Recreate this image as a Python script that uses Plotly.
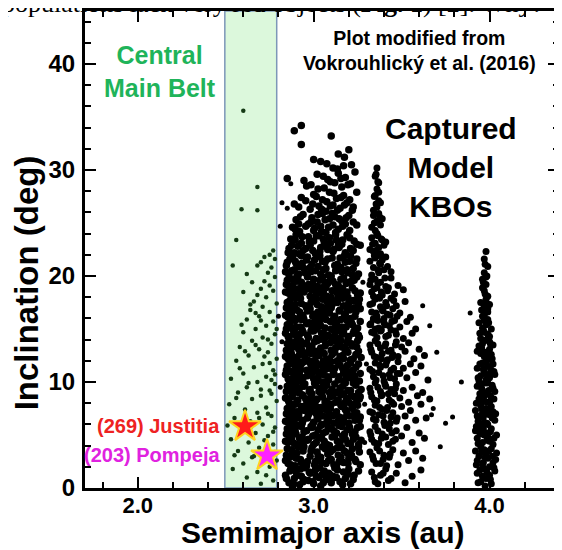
import plotly.graph_objects as go

# ---------------- data (a [au], i [deg]) ----------------
# central main belt objects (inside the green band)
belt_pts = [
    (2.60,35.6),(2.68,28.4),(2.59,26.3),(2.68,26.2),(2.56,23.4),(2.54,21.0),(2.68,21.0),
    (2.77,22.4),(2.78,21.6),(2.76,20.8),(2.74,20.3),(2.78,19.9),(2.72,19.5),(2.75,19.1),(2.70,18.8),
    (2.77,18.6),(2.68,18.2),(2.73,18.0),(2.66,17.6),(2.79,17.4),(2.71,17.1),(2.64,16.8),(2.75,16.6),
    (2.69,16.2),(2.62,15.9),(2.77,15.7),(2.73,15.3),(2.67,15.0),(2.60,14.7),(2.78,14.5),(2.71,14.2),
    (2.65,13.9),(2.76,13.6),(2.58,13.3),(2.69,13.1),(2.74,12.8),(2.63,12.5),(2.79,12.2),(2.56,12.0),
    (2.71,11.7),(2.66,11.4),(2.77,11.1),(2.60,10.8),(2.73,10.5),(2.53,10.3),(2.68,10.0),(2.78,9.8),
    (2.62,9.5),(2.75,9.2),(2.57,9.0),(2.70,8.7),(2.65,8.4),(2.79,8.2),(2.52,7.9),(2.73,7.6),(2.61,7.4),
    (2.68,7.1),(2.76,6.8),(2.55,6.6),(2.64,6.3),(2.71,6.0),(2.78,5.7),(2.59,5.5),(2.67,5.2),(2.74,4.9),
    (2.53,4.6),(2.63,4.3),(2.77,4.1),(2.69,3.8),(2.57,3.5),(2.72,3.2),(2.65,2.9),(2.79,2.6),(2.60,2.3),
    (2.75,2.0),(2.54,1.8),(2.68,1.5),(2.62,1.0),(2.77,0.7),(2.70,0.4),
    (2.62,20.2),(2.65,19.4),(2.60,18.5),(2.64,17.3),(2.70,21.3),(2.72,21.8),(2.75,22.0),(2.67,16.5),
    (2.59,15.4),(2.70,15.8),(2.74,14.0),(2.72,12.4),(2.76,10.2),(2.70,9.3),(2.74,7.0),(2.77,5.3),
    (2.72,4.5),(2.78,3.4),(2.66,3.0),(2.73,1.2),(2.56,8.5),(2.51,5.9),(2.58,11.3),(2.61,12.9),
    (2.67,13.5),(2.63,9.9),(2.69,6.6),(2.75,11.8),(2.79,15.0),(2.78,10.7),(2.76,8.9),(2.71,2.6),
    (2.64,5.7),(2.55,3.1),
]

# captured model KBOs, block between the 5:2 and 2:1 gaps
outer_pts = [
    (2.84,1.2),(2.86,0.5),(2.87,1.8),(2.89,0.9),(2.90,1.5),(2.92,0.3),(2.93,1.1),(2.95,1.9),(2.97,0.7),
    (2.98,1.4),(3.00,0.4),(3.01,1.7),(3.03,1.0),(3.04,0.2),(3.06,1.6),(3.07,0.8),(3.09,1.3),(3.10,0.5),
    (3.12,1.9),(3.13,1.0),(3.15,0.6),(3.17,1.5),(3.18,0.9),(3.20,1.8),(3.21,0.4),(3.23,1.2),(2.88,0.1),
    (2.94,0.6),(3.05,1.3),(3.11,1.1),
    (2.84,2.6),(2.85,3.7),(2.87,2.2),(2.88,3.3),(2.90,2.8),(2.91,3.9),(2.93,2.4),(2.94,3.5),(2.96,2.1),
    (2.98,3.0),(2.99,3.8),(3.01,2.5),(3.02,3.4),(3.04,2.9),(3.05,3.9),(3.07,2.3),(3.08,3.2),(3.10,2.7),
    (3.11,3.6),(3.13,2.1),(3.14,3.1),(3.16,3.8),(3.17,2.4),(3.19,3.3),(3.20,2.8),(3.22,3.7),(3.24,2.5),
    (3.26,3.4),
    (2.84,4.4),(2.85,5.6),(2.86,4.9),(2.88,5.9),(2.89,4.2),(2.90,5.1),(2.92,4.7),(2.93,5.8),(2.94,4.3),
    (2.96,5.4),(2.97,4.6),(2.99,5.7),(3.00,4.1),(3.01,5.0),(3.03,4.8),(3.04,5.9),(3.06,4.4),(3.07,5.3),
    (3.09,4.0),(3.10,5.6),(3.12,4.9),(3.13,5.2),(3.15,4.3),(3.16,5.8),(3.18,4.6),(3.19,5.5),(3.21,4.2),
    (3.22,5.1),(3.24,4.8),(3.25,5.7),(3.27,4.5),(2.87,5.2),
    (2.84,6.3),(2.85,7.5),(2.86,6.8),(2.87,7.9),(2.89,6.1),(2.90,7.2),(2.91,6.6),(2.93,7.7),(2.94,6.4),
    (2.95,7.3),(2.97,6.9),(2.98,7.8),(3.00,6.2),(3.01,7.1),(3.02,6.7),(3.04,7.6),(3.05,6.0),(3.07,7.4),
    (3.08,6.5),(3.10,7.9),(3.11,6.8),(3.13,7.2),(3.14,6.3),(3.16,7.7),(3.17,6.6),(3.19,7.0),(3.20,6.1),
    (3.22,7.5),(3.23,6.9),(3.25,7.8),(3.26,6.4),(2.88,7.0),(3.09,6.9),(3.18,7.4),
    (2.84,8.5),(2.85,9.6),(2.86,8.1),(2.87,9.2),(2.88,8.8),(2.90,9.9),(2.91,8.3),(2.92,9.4),(2.94,8.7),
    (2.95,9.8),(2.97,8.2),(2.98,9.3),(2.99,8.9),(3.01,9.7),(3.02,8.4),(3.03,9.1),(3.05,8.6),(3.06,9.5),
    (3.08,8.0),(3.09,9.0),(3.11,8.7),(3.12,9.8),(3.14,8.3),(3.15,9.4),(3.17,8.9),(3.18,9.9),(3.20,8.1),
    (3.21,9.2),(3.23,8.6),(3.24,9.7),(3.26,8.4),(3.27,9.3),(2.89,9.0),(3.00,8.1),(3.13,9.0),(3.19,8.5),
    (2.84,10.7),(2.85,11.5),(2.86,10.2),(2.88,11.9),(2.89,10.6),(2.90,11.3),(2.91,10.1),(2.93,11.7),
    (2.94,10.4),(2.96,11.1),(2.97,10.8),(2.98,11.8),(3.00,10.3),(3.01,11.4),(3.03,10.9),(3.04,11.6),
    (3.05,10.0),(3.07,11.2),(3.08,10.5),(3.10,11.9),(3.11,10.7),(3.12,11.3),(3.14,10.2),(3.15,11.6),
    (3.17,10.9),(3.18,11.0),(3.20,10.4),(3.21,11.8),(3.23,10.6),(3.24,11.4),(3.26,10.1),(2.87,11.0),
    (2.92,10.9),(3.02,10.1),(3.09,11.5),(3.19,11.5),
    (2.84,12.4),(2.85,13.6),(2.87,12.9),(2.88,13.3),(2.89,12.1),(2.90,13.8),(2.92,12.6),(2.93,13.1),
    (2.95,12.3),(2.96,13.7),(2.97,12.8),(2.99,13.4),(3.00,12.0),(3.02,13.9),(3.03,12.5),(3.04,13.2),
    (3.06,12.7),(3.07,13.6),(3.09,12.2),(3.10,13.0),(3.12,12.8),(3.13,13.8),(3.15,12.4),(3.16,13.3),
    (3.18,12.9),(3.19,13.7),(3.21,12.1),(3.22,13.4),(3.24,12.6),(3.25,13.9),(3.27,12.3),(2.86,13.0),
    (2.91,13.5),(3.01,12.9),(3.08,12.1),(3.17,12.2),
    (2.84,14.6),(2.85,15.4),(2.86,14.1),(2.87,15.8),(2.89,14.9),(2.90,15.2),(2.91,14.3),(2.93,15.9),
    (2.94,14.7),(2.96,15.5),(2.97,14.2),(2.99,15.1),(3.00,14.8),(3.01,15.7),(3.03,14.0),(3.04,15.3),
    (3.06,14.5),(3.07,15.9),(3.08,14.4),(3.10,15.0),(3.11,14.9),(3.13,15.6),(3.14,14.1),(3.16,15.2),
    (3.17,14.7),(3.19,15.8),(3.20,14.3),(3.22,15.4),(3.23,14.8),(3.25,15.1),(3.26,14.2),(2.88,15.0),
    (2.92,14.5),(3.02,15.0),(3.12,14.4),(3.21,15.9),
    (2.84,16.3),(2.85,17.5),(2.86,16.8),(2.88,17.2),(2.89,16.0),(2.90,17.9),(2.92,16.6),(2.93,17.4),
    (2.94,16.2),(2.96,17.0),(2.98,16.9),(2.99,17.7),(3.00,16.4),(3.02,17.3),(3.03,16.1),(3.05,17.8),
    (3.06,16.7),(3.08,17.1),(3.09,16.5),(3.11,17.6),(3.12,16.2),(3.14,17.9),(3.15,16.8),(3.17,17.2),
    (3.18,16.4),(3.20,17.5),(3.21,16.0),(3.23,17.0),(3.24,16.6),(3.26,17.8),(2.87,16.9),(3.01,16.0),
    (3.10,17.0),(3.19,16.9),
    (2.84,18.5),(2.85,19.6),(2.87,18.2),(2.88,19.1),(2.89,18.8),(2.91,19.8),(2.92,18.3),(2.93,19.4),
    (2.95,18.7),(2.97,19.2),(2.98,18.1),(3.00,19.7),(3.01,18.6),(3.02,19.0),(3.04,18.4),(3.05,19.9),
    (3.07,18.9),(3.08,19.3),(3.10,18.0),(3.11,19.5),(3.13,18.7),(3.14,19.1),(3.16,18.3),(3.17,19.8),
    (3.19,18.5),(3.20,19.4),(3.22,18.9),(3.23,19.6),(3.25,18.2),(2.86,19.0),(2.90,18.0),(3.06,18.0),
    (2.84,20.4),(2.85,21.3),(2.86,20.1),(2.88,21.7),(2.89,20.6),(2.90,21.2),(2.92,20.9),(2.93,21.9),
    (2.95,20.3),(2.96,21.5),(2.98,20.8),(2.99,21.1),(3.01,20.5),(3.02,21.8),(3.04,20.2),(3.05,21.4),
    (3.07,20.7),(3.08,21.6),(3.10,20.0),(3.12,21.0),(3.13,20.9),(3.15,21.7),(3.16,20.4),(3.18,21.3),
    (3.19,20.6),(3.21,21.9),(3.22,20.1),(3.24,21.2),
    (2.86,22.6),(2.87,23.5),(2.89,22.2),(2.90,23.9),(2.91,22.8),(2.93,23.1),(2.94,22.4),(2.97,23.7),
    (2.98,22.9),(3.00,23.3),(3.01,22.1),(3.03,23.8),(3.04,22.7),(3.06,23.2),(3.08,22.5),(3.09,23.6),
    (3.11,22.3),(3.13,23.4),(3.14,22.9),(3.16,23.0),(3.18,22.2),(3.19,23.9),(3.21,22.6),(3.23,23.3),
    (2.88,24.6),(2.90,25.3),(2.92,24.2),(2.94,25.8),(2.97,24.9),(2.99,25.5),(3.00,24.3),(3.02,25.1),
    (3.04,24.7),(3.05,25.9),(3.07,24.1),(3.09,25.4),(3.11,24.8),(3.12,25.6),(3.14,24.4),(3.16,25.2),
    (3.18,24.9),(3.20,25.7),
    (2.89,26.8),(2.93,27.4),(2.98,26.3),(3.00,27.7),(3.03,26.6),(3.05,27.2),(3.07,26.1),(3.09,27.9),
    (3.11,26.7),(3.13,27.3),(3.15,26.4),(3.17,27.6),(3.19,26.9),(3.22,26.2),
    (2.85,29.2),(2.96,28.5),(3.02,29.6),(3.06,28.3),(3.08,29.1),(3.12,28.8),(3.14,29.7),(3.16,28.4),
    (3.18,29.3),(3.21,28.7),
    (2.89,33.7),(2.93,34.2),(2.93,32.4),(3.10,33.2),(3.04,30.8),(3.14,31.5),(3.17,30.4),(3.20,31.9),
    (3.11,30.2),(3.00,31.0),
]

# more objects of the same block (it is nearly solid black in the picture)
outer_pts_dense = [
    (2.845,0.9),(2.865,1.6),(2.885,0.4),(2.905,1.2),(2.925,1.8),(2.945,0.8),(2.975,1.5),(2.995,0.6),
    (3.015,1.1),(3.035,1.9),(3.055,0.5),(3.085,1.4),(3.105,0.9),(3.135,1.7),(3.165,0.3),(3.195,1.3),
    (3.225,0.8),(3.255,1.6),
    (2.845,3.1),(2.855,2.3),(2.875,3.6),(2.895,2.1),(2.905,3.3),(2.925,2.7),(2.945,3.9),(2.965,2.5),
    (2.985,3.5),(3.005,2.2),(3.025,3.0),(3.045,2.4),(3.065,3.7),(3.085,2.6),(3.095,3.4),(3.115,2.2),
    (3.135,3.8),(3.155,2.9),(3.175,3.5),(3.195,2.3),(3.215,3.1),(3.235,2.7),(3.255,3.9),(3.265,2.2),
    (2.865,2.9),(3.145,2.5),
    (2.845,5.1),(2.855,4.3),(2.865,5.7),(2.875,4.6),(2.895,5.4),(2.905,4.1),(2.915,5.9),(2.935,4.8),
    (2.945,5.3),(2.965,4.5),(2.985,5.8),(2.995,4.9),(3.015,4.3),(3.025,5.5),(3.045,4.7),(3.055,5.2),
    (3.075,4.1),(3.085,5.7),(3.105,4.8),(3.115,5.4),(3.135,4.4),(3.145,5.9),(3.165,4.9),(3.175,5.1),
    (3.195,4.2),(3.205,5.7),(3.225,4.6),(3.235,5.3),(3.255,4.1),(3.265,5.8),
    (2.845,7.0),(2.855,6.2),(2.875,7.6),(2.885,6.5),(2.895,7.9),(2.915,6.9),(2.925,7.3),(2.935,6.1),
    (2.955,7.8),(2.965,6.6),(2.985,7.3),(2.995,6.0),(3.015,7.7),(3.025,6.5),(3.035,7.1),(3.055,6.8),
    (3.065,7.9),(3.085,6.3),(3.095,7.5),(3.115,6.1),(3.125,7.0),(3.145,6.7),(3.155,7.8),(3.175,6.2),
    (3.185,7.3),(3.205,6.8),(3.215,7.9),(3.235,6.4),(3.245,7.1),(3.265,6.7),(2.865,7.2),(3.075,6.2),
    (2.845,9.1),(2.855,8.3),(2.865,9.8),(2.875,8.6),(2.895,9.4),(2.905,8.2),(2.915,9.0),(2.935,8.8),
    (2.945,9.6),(2.955,8.4),(2.975,9.1),(2.985,8.7),(3.005,9.9),(3.015,8.3),(3.035,9.4),(3.045,8.9),
    (3.065,8.2),(3.075,9.7),(3.095,8.6),(3.105,9.3),(3.125,8.1),(3.135,9.0),(3.155,8.8),(3.165,9.6),
    (3.185,8.3),(3.195,9.2),(3.215,8.7),(3.225,9.9),(3.245,8.2),(3.255,9.0),(3.265,8.6),(2.885,9.9),
    (3.055,9.2),(3.175,8.0),
    (2.845,11.1),(2.855,10.3),(2.865,11.7),(2.885,10.8),(2.895,11.5),(2.905,10.5),(2.925,11.2),
    (2.935,10.0),(2.945,11.9),(2.965,10.6),(2.985,11.3),(2.995,10.9),(3.015,11.8),(3.025,10.4),
    (3.045,11.0),(3.055,10.7),(3.075,11.6),(3.085,10.2),(3.105,11.2),(3.115,10.8),(3.135,11.9),
    (3.145,10.5),(3.165,11.3),(3.175,10.1),(3.195,11.6),(3.205,10.9),(3.225,11.1),(3.235,10.3),
    (3.255,11.7),(3.265,10.8),(2.875,10.1),(2.915,11.9),(3.065,10.0),(3.185,10.6),
    (2.845,13.0),(2.855,12.2),(2.865,13.8),(2.875,12.6),(2.895,13.5),(2.905,12.3),(2.915,13.1),
    (2.935,12.9),(2.945,13.6),(2.965,12.1),(2.975,13.3),(2.985,12.7),(3.005,13.8),(3.015,12.4),
    (3.035,13.0),(3.045,12.8),(3.065,13.4),(3.075,12.1),(3.095,13.7),(3.105,12.6),(3.125,13.2),
    (3.135,12.0),(3.155,13.9),(3.165,12.5),(3.185,13.1),(3.195,12.8),(3.215,13.6),(3.225,12.2),
    (3.245,13.3),(3.255,12.9),(2.885,12.0),(2.925,13.9),(3.055,12.0),(3.145,13.5),
    (2.845,15.0),(2.855,14.3),(2.865,15.6),(2.885,14.5),(2.895,15.8),(2.905,14.0),(2.925,15.2),
    (2.935,14.9),(2.945,15.9),(2.965,14.4),(2.975,15.6),(2.985,14.8),(3.005,15.3),(3.015,14.1),
    (3.035,15.8),(3.045,14.6),(3.065,15.1),(3.075,14.3),(3.095,15.7),(3.105,14.2),(3.125,15.4),
    (3.135,14.8),(3.155,15.9),(3.165,14.5),(3.185,15.2),(3.195,14.0),(3.215,15.6),(3.225,14.6),
    (3.245,15.0),(3.255,14.4),(3.265,15.7),(2.875,15.1),(3.055,14.0),(3.145,15.0),
    (2.845,17.0),(2.855,16.1),(2.865,17.7),(2.875,16.5),(2.895,17.3),(2.905,16.8),(2.925,17.9),
    (2.935,16.3),(2.955,17.2),(2.965,16.7),(2.985,17.5),(2.995,16.2),(3.015,17.8),(3.025,16.6),
    (3.045,17.1),(3.055,16.3),(3.075,17.6),(3.085,16.9),(3.105,17.3),(3.115,16.1),(3.135,17.5),
    (3.145,16.7),(3.165,17.9),(3.175,16.4),(3.195,17.2),(3.205,16.8),(3.225,17.7),(3.235,16.2),
    (3.255,17.4),(3.265,16.9),(2.915,16.0),(3.065,16.0),
    (2.845,19.2),(2.855,18.4),(2.875,19.7),(2.885,18.3),(2.905,19.5),(2.915,18.8),(2.935,19.1),
    (2.945,18.5),(2.965,19.9),(2.985,18.7),(2.995,19.3),(3.015,18.2),(3.035,19.6),(3.045,18.9),
    (3.065,19.4),(3.075,18.1),(3.095,19.8),(3.105,18.6),(3.125,19.2),(3.135,18.4),(3.155,19.7),
    (3.165,18.8),(3.185,19.3),(3.195,18.0),(3.215,19.5),(3.235,18.6),(3.245,19.9),(3.265,18.4),
    (2.865,18.9),(3.055,18.5),
    (2.845,21.0),(2.865,21.6),(2.875,20.5),(2.895,21.4),(2.915,20.2),(2.935,21.2),(2.945,20.7),
    (2.965,21.8),(2.985,20.4),(3.005,21.5),(3.025,20.9),(3.035,21.9),(3.055,20.6),(3.065,21.3),
    (3.085,20.1),(3.105,21.7),(3.125,20.5),(3.135,21.1),(3.155,20.8),(3.175,21.9),(3.195,20.3),
    (3.205,21.4),(3.225,20.7),(3.245,21.6),(3.255,20.2),(2.905,20.0),
    (2.875,22.9),(2.895,23.4),(2.915,22.1),(2.935,23.7),(2.955,22.6),(2.975,23.2),(2.995,22.4),
    (3.015,23.8),(3.035,22.3),(3.055,23.5),(3.075,22.8),(3.095,23.1),(3.115,22.5),(3.125,23.9),
    (3.145,22.7),(3.165,23.4),(3.185,22.0),(3.205,23.6),(3.225,22.4),(3.245,23.0),(2.855,22.2),
    (3.265,22.9),
    (2.895,24.4),(2.925,25.6),(2.955,24.7),(2.985,25.1),(3.005,24.5),(3.025,25.8),(3.045,24.2),
    (3.065,25.3),(3.085,24.6),(3.105,25.9),(3.125,24.1),(3.145,25.4),(3.165,24.7),(3.185,25.5),
    (3.205,24.3),(3.225,25.1),(3.245,24.8),(2.915,24.9),
    (2.915,26.5),(2.955,27.1),(2.995,26.8),(3.015,27.5),(3.045,26.3),(3.075,27.0),(3.095,26.6),
    (3.115,27.8),(3.135,26.2),(3.155,27.4),(3.175,26.7),(3.205,27.2),(3.225,26.5),(3.245,27.9),
    (2.945,29.0),(2.985,28.6),(3.025,28.2),(3.055,29.4),(3.095,28.9),(3.135,30.1),(3.155,29.2),
    (3.175,31.2),(3.195,28.6),(3.215,30.5),(3.235,29.8),(3.075,30.6),
]

# block beyond the 2:1 gap with the tall narrow spike
cybele_pts = [
    (3.36,30.2),(3.35,29.4),(3.37,28.8),(3.36,28.2),
    (3.35,27.6),(3.37,27.1),(3.36,26.5),(3.38,26.9),(3.34,26.2),(3.37,27.9),
    (3.34,25.7),(3.36,25.2),(3.38,24.8),(3.35,24.3),(3.37,25.9),(3.39,25.4),(3.33,24.6),(3.36,24.0),
    (3.33,23.6),(3.35,23.1),(3.37,22.7),(3.39,23.4),(3.34,22.3),(3.36,23.9),(3.38,22.1),(3.40,22.9),
    (3.32,22.5),(3.41,23.2),
    (3.32,21.4),(3.34,20.8),(3.35,21.7),(3.37,20.3),(3.38,21.1),(3.40,20.6),(3.36,21.9),(3.33,20.1),
    (3.39,21.5),(3.42,20.9),(3.41,21.8),(3.44,20.4),
    (3.32,19.2),(3.33,18.5),(3.35,19.7),(3.36,18.9),(3.38,19.4),(3.39,18.2),(3.41,19.0),(3.42,18.6),
    (3.44,19.8),(3.46,18.3),(3.34,18.1),(3.37,18.0),(3.48,19.1),(3.51,18.7),
    (3.32,17.3),(3.33,16.6),(3.35,17.8),(3.36,16.2),(3.38,17.1),(3.39,16.8),(3.41,17.5),(3.42,16.4),
    (3.44,17.9),(3.45,16.9),(3.47,17.2),(3.49,16.5),(3.52,17.6),(3.55,16.1),(3.34,16.0),(3.40,16.0),
    (3.32,15.4),(3.33,14.7),(3.34,15.9),(3.36,14.2),(3.37,15.1),(3.38,14.8),(3.40,15.6),(3.41,14.3),
    (3.43,15.3),(3.44,14.9),(3.46,15.8),(3.47,14.5),(3.49,15.2),(3.51,14.1),(3.53,15.7),(3.56,14.6),
    (3.58,15.0),(3.35,15.0),
    (3.32,13.5),(3.33,12.8),(3.35,13.9),(3.36,12.3),(3.38,13.2),(3.39,12.7),(3.41,13.6),(3.42,12.1),
    (3.44,13.0),(3.45,12.6),(3.47,13.8),(3.48,12.4),(3.50,13.3),(3.52,12.9),(3.54,13.7),(3.57,12.2),
    (3.60,13.1),(3.63,12.5),
    (3.32,11.2),(3.34,10.5),(3.35,11.8),(3.37,10.9),(3.38,11.4),(3.40,10.1),(3.41,11.6),(3.43,10.7),
    (3.44,11.1),(3.46,10.3),(3.48,11.9),(3.49,10.8),(3.51,11.3),(3.53,10.4),(3.55,11.7),(3.58,10.9),
    (3.61,11.5),(3.65,10.2),
    (3.32,9.4),(3.33,8.6),(3.35,9.9),(3.36,8.2),(3.38,9.1),(3.39,8.8),(3.41,9.6),(3.43,8.3),(3.44,9.3),
    (3.46,8.9),(3.47,9.8),(3.49,8.5),(3.51,9.2),(3.54,8.1),(3.56,9.5),(3.59,8.7),(3.62,9.0),(3.66,8.4),
    (3.32,7.2),(3.34,6.5),(3.35,7.8),(3.37,6.9),(3.39,7.4),(3.40,6.2),(3.42,7.6),(3.44,6.7),(3.45,7.1),
    (3.47,6.3),(3.50,7.7),(3.52,6.8),(3.55,7.3),(3.58,6.4),(3.61,7.9),(3.64,6.6),
    (3.32,5.3),(3.33,4.6),(3.35,5.8),(3.37,4.2),(3.39,5.1),(3.41,4.8),(3.43,5.6),(3.45,4.4),(3.47,5.4),
    (3.50,4.9),(3.53,5.7),(3.56,4.3),(3.60,5.2),(3.63,4.7),
    (3.32,3.4),(3.34,2.7),(3.36,3.8),(3.38,2.3),(3.40,3.1),(3.43,2.9),(3.45,3.6),(3.48,2.2),(3.51,3.3),
    (3.54,2.6),(3.58,3.5),(3.62,2.8),
    (3.33,1.5),(3.35,0.6),(3.38,1.2),(3.41,1.8),(3.44,0.9),(3.47,1.4),(3.52,0.5),(3.56,1.1),(3.61,1.7),
    # denser core of the spike
    (3.345,25.0),(3.365,23.8),(3.355,22.4),(3.375,21.2),(3.345,21.9),(3.385,23.5),(3.365,20.6),
    (3.355,26.8),(3.375,25.6),(3.335,23.0),(3.395,21.8),(3.345,27.5),(3.365,28.9),(3.355,29.6),
    (3.325,19.6),(3.345,18.8),(3.365,19.3),(3.385,18.5),(3.405,19.8),(3.425,18.9),(3.335,17.4),
    (3.355,16.5),(3.375,17.9),(3.395,16.7),(3.415,17.2),(3.435,16.3),(3.325,15.5),(3.345,14.6),
    (3.365,15.8),(3.385,14.9),(3.405,15.4),(3.425,14.4),(3.445,15.7),(3.465,14.8),(3.455,17.7),
    (3.475,16.2),
    (3.325,13.1),(3.345,12.4),(3.365,13.6),(3.385,12.2),(3.405,13.4),(3.425,12.9),(3.445,12.3),
    (3.465,13.5),(3.335,11.0),(3.355,10.2),(3.375,11.6),(3.395,10.6),(3.415,11.9),(3.435,10.4),
    (3.455,11.3),(3.475,10.8),(3.325,9.0),(3.345,8.3),(3.365,9.5),(3.385,8.7),(3.405,9.8),(3.425,8.9),
    (3.445,8.1),(3.465,9.4),(3.335,7.1),(3.355,6.4),(3.375,7.6),(3.395,6.8),(3.415,7.3),(3.435,6.1),
    (3.455,7.9),(3.475,6.6),(3.325,5.0),(3.345,4.3),(3.365,5.4),(3.385,4.7),(3.405,5.9),(3.425,4.1),
    (3.445,5.2),(3.465,4.6),(3.335,3.0),(3.355,2.3),(3.375,3.5),(3.395,2.7),(3.415,2.1),(3.435,3.2),
    (3.345,1.0),(3.365,0.4),(3.395,1.4),(3.425,0.7),
]

# scattered objects in the resonance gaps and between the groups
sparse_pts = [
    (2.81,24.7),(2.82,26.9),(2.80,16.2),(2.81,9.5),(2.82,13.8),(2.85,26.4),(2.87,28.7),
    (3.29,4.3),(3.30,11.7),(3.28,19.4),(3.29,7.9),
    (3.67,6.9),(3.68,7.5),(3.75,6.1),(3.79,6.7),(3.84,10.0),(3.89,16.5),(3.70,12.8),(3.72,3.9),
    (3.66,15.3),(3.62,17.2),
]

# Hilda-like column near 4.0 au
hilda_pts = [
    (3.98,22.3),(3.97,21.6),(3.99,20.9),(3.97,20.3),
    (3.96,19.7),(3.98,19.2),(3.97,18.6),(3.99,18.1),(3.96,18.9),(3.98,19.9),
    (3.95,17.5),(3.97,17.1),(3.99,16.6),(3.96,16.2),(3.98,17.8),(4.00,17.3),(3.97,16.0),(3.99,16.9),
    (3.94,15.6),(3.96,15.1),(3.97,14.7),(3.99,15.9),(4.00,14.3),(3.95,14.1),(3.98,15.4),(4.01,15.0),
    (3.97,15.8),(3.99,14.5),
    (3.94,13.4),(3.95,12.7),(3.97,13.9),(3.98,12.3),(4.00,13.1),(4.01,12.6),(3.96,13.6),(3.99,12.1),
    (4.02,13.5),(3.93,12.9),(3.97,12.4),(4.00,13.8),
    (3.93,11.3),(3.95,10.6),(3.96,11.8),(3.98,10.2),(3.99,11.5),(4.01,10.9),(4.02,11.7),(3.94,10.1),
    (3.97,11.0),(4.00,10.4),(3.98,11.9),(4.03,10.7),
    (3.93,9.6),(3.94,8.4),(3.96,9.2),(3.97,8.7),(3.99,9.9),(4.00,8.1),(4.02,9.4),(3.95,9.8),(3.98,8.9),
    (4.01,8.5),(4.03,9.1),(3.96,8.2),
    (3.92,7.3),(3.94,6.6),(3.95,7.8),(3.97,6.2),(3.98,7.5),(4.00,6.9),(4.01,7.7),(4.03,6.4),(3.96,7.1),
    (3.99,6.0),(4.02,7.2),(3.93,6.8),
    (3.92,5.4),(3.93,4.7),(3.95,5.9),(3.96,4.3),(3.98,5.2),(3.99,4.8),(4.01,5.6),(4.02,4.1),(4.04,5.0),
    (3.94,5.5),(3.97,5.0),(4.00,4.4),
    (3.92,3.5),(3.93,2.6),(3.95,3.9),(3.96,2.2),(3.98,3.1),(3.99,2.8),(4.01,3.7),(4.02,2.4),(4.04,3.3),
    (3.94,3.0),(3.97,3.6),(4.00,2.0),
    (3.93,1.4),(3.95,0.6),(3.97,1.8),(3.98,0.9),(4.00,1.2),(4.01,0.4),(4.03,1.6),(3.96,1.1),
    (3.975,21.1),(3.985,20.0),(3.965,19.4),(3.975,18.3),(3.985,17.4),(3.955,16.8),(3.975,16.5),
    (3.995,15.6),(3.965,14.9),(3.985,14.0),(3.945,14.6),(4.005,13.6),(3.955,13.2),(3.975,12.8),
    (3.995,12.9),(4.015,12.2),(3.945,11.7),(3.965,11.2),(3.985,10.7),(4.005,11.3),(4.025,11.0),
    (3.935,10.4),(3.955,9.4),(3.975,9.9),(3.995,9.2),(4.015,9.7),(3.945,8.9),(3.965,8.5),(3.985,8.1),
    (4.005,8.7),(4.025,8.4),(3.925,8.0),(3.955,7.5),(3.975,7.0),(3.995,7.3),(4.015,6.6),(3.935,6.3),
    (3.965,6.7),(3.985,6.1),(4.035,7.0),(3.925,5.8),(3.945,5.1),(3.965,5.6),(3.985,4.5),(4.005,5.3),
    (4.025,4.7),(3.935,4.2),(3.955,3.4),(3.975,2.9),(3.995,3.5),(4.015,3.0),(4.035,2.7),(3.925,2.2),
    (3.945,1.7),(3.965,2.4),(3.985,1.5),(4.005,0.8),(4.025,1.9),(3.935,0.5),(3.975,0.2),
]

star_names = ["(269) Justitia", "(203) Pompeja"]
star_a = [2.61, 2.735]
star_i = [5.8, 3.05]
star_colors = ["#ff1a1a", "#ff22ff"]
label_colors = ["#ee2222", "#e022e0"]

band_a = [2.495, 2.79]
x_ticks = [2.0, 3.0, 4.0]
x_ticklabels = ["2.0", "3.0", "4.0"]
y_ticks = [0, 10, 20, 30, 40]

FONT = "Liberation Sans, Arial, sans-serif"

fig = go.Figure()

fig.add_shape(type="rect", xref="x", yref="paper", x0=band_a[0], x1=band_a[1], y0=0, y1=1,
              fillcolor="#dcf8dc", line=dict(color="#7d97b8", width=1.5), layer="below")

def add_pts(pts, color, size):
    fig.add_trace(go.Scatter(x=[p[0] for p in pts], y=[p[1] for p in pts], mode="markers",
                             marker=dict(color=color, size=size, line=dict(width=0)),
                             showlegend=False, hoverinfo="skip"))

add_pts(belt_pts, "#153a15", 4.5)
add_pts(sparse_pts, "black", 5)
add_pts(outer_pts, "black", 7.5)
add_pts(outer_pts_dense, "black", 7.5)
add_pts(cybele_pts, "black", 7)
add_pts(hilda_pts, "black", 7)

fig.add_trace(go.Scatter(x=star_a, y=star_i, mode="markers",
                         marker=dict(symbol="star", size=24, color=star_colors,
                                     line=dict(color="#ffd21f", width=2)),
                         showlegend=False, hoverinfo="skip"))

for name, a, i, c in zip(star_names, star_a, star_i, label_colors):
    fig.add_annotation(x=2.48, y=i + 0.05, xref="x", yref="y", text=name, showarrow=False,
                       xanchor="right", yanchor="middle",
                       font=dict(family=FONT, size=20, color=c, weight="bold"))

fig.add_annotation(x=2.124, y=39.3, xref="x", yref="y", text="Central<br>Main Belt", showarrow=False,
                   font=dict(family=FONT, size=25, color="#1fb45a", weight="bold"))
fig.add_annotation(x=3.60, y=41.3, xref="x", yref="y",
                   text="Plot modified from<br>Vokrouhlický et al. (2016)", showarrow=False,
                   font=dict(family=FONT, size=19.5, color="black", weight="bold"))
fig.add_annotation(x=3.78, y=30.2, xref="x", yref="y", text="Captured<br>Model<br>KBOs",
                   showarrow=False, font=dict(family=FONT, size=30, color="black", weight="bold"))

# axis titles
fig.add_annotation(x=0.5, y=-0.0933, xref="paper", yref="paper", text="Semimajor axis (au)",
                   showarrow=False, yanchor="middle",
                   font=dict(family=FONT, size=30, color="black", weight="bold"))
fig.add_annotation(x=-0.1216, y=0.4298, xref="paper", yref="paper", text="Inclination (deg)",
                   showarrow=False, textangle=-90, xanchor="center", yanchor="middle",
                   font=dict(family=FONT, size=33, color="black", weight="bold"))

# cut-off text line from the surrounding page
fig.add_annotation(x=-0.18, y=1.0147, xref="paper", yref="paper", xanchor="left", yanchor="middle",
                   text="populations lack very red objects (<b>Fig. 1</b>) [2]. Why?",
                   showarrow=False, font=dict(family="Liberation Serif, Times New Roman, serif",
                                              size=26, color="black"))

axis_common = dict(showline=True, linecolor="black", linewidth=3, mirror="ticks",
                   ticks="inside", ticklen=11, tickwidth=2, tickcolor="black",
                   showgrid=False, zeroline=False)

fig.update_xaxes(range=[1.7, 4.395], tickvals=x_ticks, ticktext=x_ticklabels,
                 tickfont=dict(family=FONT, size=22, color="black", weight="bold"),
                 minor=dict(ticks="inside", ticklen=6, tickwidth=2, tickcolor="black",
                            dtick=0.2, tick0=2.0),
                 ticklabelstandoff=-4, **axis_common)
fig.update_yaxes(range=[0, 45], tickvals=y_ticks,
                 tickfont=dict(family=FONT, size=24, color="black", weight="bold"),
                 minor=dict(ticks="inside", ticklen=6, tickwidth=2, tickcolor="black",
                            dtick=2, tick0=0),
                 ticklabelstandoff=2, **axis_common)

fig.update_layout(width=554, height=542, margin=dict(l=77, r=0, t=3, b=62),
                  plot_bgcolor="white", paper_bgcolor="white")

fig.write_html("out.html")
